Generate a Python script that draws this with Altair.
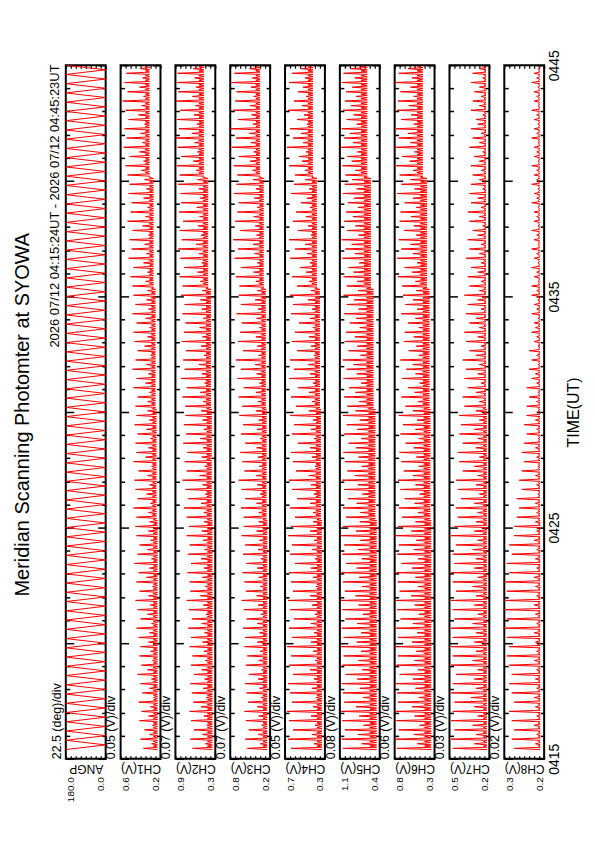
import altair as alt
import pandas as pd

# ---------------- text ----------------
MAIN_TITLE = "Meridian Scanning Photomter at SYOWA"
HEADER = "2026 07/12 04:15:24UT - 2026 07/12 04:45:23UT"
AXIS_NAMES = ["ANGP", "CH1(V)", "CH2(V)", "CH3(V)", "CH4(V)", "CH5(V)", "CH6(V)", "CH7(V)", "CH8(V)"]
DIV_TEXT = ["22.5 (deg)/div", "0.05 (V)/div", "0.07 (V)/div", "0.07 (V)/div", "0.05 (V)/div",
            "0.08 (V)/div", "0.06 (V)/div", "0.03 (V)/div", "0.02 (V)/div"]
LOW = [0.0, 0.20, 0.30, 0.22, 0.30, 0.43, 0.31, 0.22, 0.18]
HIGH = [180.0, 0.60, 0.86, 0.78, 0.70, 1.07, 0.79, 0.46, 0.34]
DIV = [22.5, 0.05, 0.07, 0.07, 0.05, 0.08, 0.06, 0.03, 0.02]

# time in minutes after 04:00 UT
TIME_START = 15.4          # 04:15:24 UT
SCAN_PERIOD = 0.4          # one full scan ~24 s
HALF_SCAN = 0.2
SAMPLE_OFFSETS = [0.0, 0.05, 0.1, 0.15, 0.2, 0.25, 0.3, 0.35]
SEGMENT_START = [0, 12, 25, 37, 50, 62]   # scan index where each 5-min block starts
TIME_TICKS = list(range(15, 46))

# scan angle turning points (deg)
ANGP = [
    180, 0, 180, 0, 180, 0, 180, 0, 180, 0, 180, 0, 180, 0, 180, 0, 180, 0, 180, 0,
    180, 0, 180, 0, 180, 0, 180, 0, 180, 0, 180, 0, 180, 0, 180, 0, 180, 0, 180, 0,
    180, 0, 180, 0, 180, 0, 180, 0, 180, 0, 180, 0, 180, 0, 180, 0, 180, 0, 180, 0,
    180, 0, 180, 0, 180, 0, 180, 0, 180, 0, 180, 0, 180, 0, 180, 0, 180, 0, 180, 0,
    180, 0, 180, 0, 180, 0, 180, 0, 180, 0, 180, 0, 180, 0, 180, 0, 180, 0, 180, 0,
    180, 0, 180, 0, 180, 0, 180, 0, 180, 0, 180, 0, 180, 0, 180, 0, 180, 0, 180, 0,
    180, 0, 180, 0, 180, 0, 180, 0, 180, 0, 180, 0, 180, 0, 180, 0, 180, 0, 180, 0,
    180, 0, 180, 0, 180, 0, 180, 0, 180,
]

# baseline (zenith) level per 5-minute block (V)
BASE_CH1 = [0.23, 0.23, 0.24, 0.25, 0.27, 0.31]
BASE_CH2 = [0.34, 0.34, 0.35, 0.36, 0.40, 0.46]
BASE_CH3 = [0.26, 0.26, 0.27, 0.28, 0.31, 0.36]
BASE_CH4 = [0.33, 0.33, 0.34, 0.35, 0.38, 0.42]
BASE_CH5 = [0.48, 0.48, 0.50, 0.53, 0.57, 0.63]
BASE_CH6 = [0.35, 0.35, 0.36, 0.37, 0.40, 0.45]
BASE_CH7 = [0.235, 0.235, 0.235, 0.24, 0.24, 0.24]
BASE_CH8 = [0.196, 0.196, 0.197, 0.197, 0.198, 0.198]

# in-between ripple level per 5-minute block (V)
MID_CH1 = [0.27, 0.27, 0.28, 0.29, 0.31, 0.35]
MID_CH2 = [0.41, 0.41, 0.42, 0.43, 0.47, 0.53]
MID_CH3 = [0.32, 0.32, 0.33, 0.34, 0.37, 0.42]
MID_CH4 = [0.38, 0.38, 0.39, 0.40, 0.43, 0.47]
MID_CH5 = [0.59, 0.59, 0.61, 0.64, 0.68, 0.73]
MID_CH6 = [0.43, 0.43, 0.44, 0.45, 0.48, 0.52]
MID_CH7 = [0.255, 0.255, 0.255, 0.25, 0.25, 0.25]
MID_CH8 = [0.203, 0.203, 0.203, 0.202, 0.202, 0.202]

# main peak of each scan (V)
PEAK_CH1 = [0.37, 0.40, 0.36, 0.41, 0.39, 0.42, 0.38, 0.40, 0.43, 0.39, 0.41, 0.40,
            0.42, 0.44, 0.40, 0.43, 0.45, 0.41, 0.44, 0.42, 0.46, 0.43, 0.41, 0.44, 0.45,
            0.44, 0.47, 0.43, 0.45, 0.46, 0.42, 0.47, 0.44, 0.45, 0.43, 0.46, 0.44,
            0.45, 0.43, 0.47, 0.44, 0.48, 0.45, 0.43, 0.46, 0.47, 0.44, 0.48, 0.45, 0.47,
            0.48, 0.50, 0.47, 0.52, 0.49, 0.51, 0.48, 0.53, 0.50, 0.49, 0.52, 0.51,
            0.53, 0.55, 0.51, 0.57, 0.54, 0.56, 0.52, 0.55, 0.58, 0.53, 0.56, 0.54]
PEAK_CH2 = [0.62, 0.65, 0.60, 0.64, 0.66, 0.61, 0.63, 0.65, 0.60, 0.64, 0.62, 0.66,
            0.64, 0.68, 0.63, 0.67, 0.70, 0.65, 0.66, 0.69, 0.64, 0.68, 0.66, 0.70, 0.67,
            0.70, 0.74, 0.68, 0.72, 0.76, 0.70, 0.73, 0.69, 0.75, 0.71, 0.74, 0.72,
            0.72, 0.76, 0.70, 0.78, 0.73, 0.75, 0.71, 0.77, 0.74, 0.72, 0.76, 0.73, 0.78,
            0.76, 0.80, 0.74, 0.79, 0.82, 0.77, 0.80, 0.75, 0.81, 0.78, 0.79, 0.82,
            0.80, 0.84, 0.78, 0.83, 0.86, 0.81, 0.84, 0.79, 0.85, 0.82, 0.84, 0.83]
PEAK_CH3 = [0.54, 0.57, 0.52, 0.56, 0.58, 0.53, 0.55, 0.57, 0.52, 0.56, 0.54, 0.58,
            0.57, 0.60, 0.55, 0.59, 0.62, 0.56, 0.58, 0.61, 0.55, 0.60, 0.57, 0.62, 0.59,
            0.59, 0.63, 0.57, 0.62, 0.66, 0.58, 0.61, 0.64, 0.57, 0.63, 0.60, 0.65,
            0.61, 0.66, 0.59, 0.68, 0.63, 0.70, 0.60, 0.67, 0.64, 0.62, 0.69, 0.63, 0.66,
            0.65, 0.70, 0.63, 0.72, 0.67, 0.74, 0.64, 0.71, 0.68, 0.66, 0.73, 0.69,
            0.68, 0.73, 0.66, 0.76, 0.70, 0.78, 0.67, 0.74, 0.71, 0.69, 0.77, 0.72]
PEAK_CH4 = [0.64, 0.67, 0.62, 0.66, 0.68, 0.63, 0.65, 0.67, 0.62, 0.66, 0.64, 0.68,
            0.63, 0.66, 0.61, 0.65, 0.67, 0.62, 0.64, 0.66, 0.60, 0.65, 0.63, 0.67, 0.64,
            0.60, 0.65, 0.58, 0.63, 0.66, 0.59, 0.62, 0.64, 0.57, 0.63, 0.61, 0.65,
            0.59, 0.64, 0.57, 0.66, 0.61, 0.65, 0.58, 0.63, 0.60, 0.56, 0.64, 0.62, 0.65,
            0.58, 0.63, 0.55, 0.65, 0.60, 0.66, 0.57, 0.62, 0.59, 0.54, 0.64, 0.61,
            0.60, 0.66, 0.56, 0.68, 0.62, 0.65, 0.58, 0.67, 0.61, 0.57, 0.66, 0.63]
PEAK_CH5 = [1.02, 1.04, 0.99, 1.03, 1.05, 1.00, 1.02, 1.04, 0.98, 1.03, 1.01, 1.05,
            1.01, 1.04, 0.98, 1.03, 1.05, 0.99, 1.02, 1.04, 0.97, 1.03, 1.00, 1.05, 1.02,
            0.97, 1.02, 0.94, 1.00, 1.03, 0.95, 0.99, 1.01, 0.93, 1.00, 0.96, 1.02,
            0.95, 1.00, 0.92, 1.01, 0.96, 1.02, 0.93, 0.99, 0.97, 0.91, 1.00, 0.96, 1.01,
            0.96, 1.01, 0.93, 1.03, 0.98, 1.04, 0.95, 1.00, 0.97, 0.94, 1.02, 0.99,
            0.98, 1.03, 0.95, 1.05, 1.00, 1.04, 0.96, 1.02, 0.99, 0.97, 1.04, 1.01]
PEAK_CH6 = [0.76, 0.78, 0.74, 0.77, 0.78, 0.75, 0.76, 0.78, 0.73, 0.77, 0.75, 0.78,
            0.75, 0.77, 0.72, 0.76, 0.78, 0.73, 0.75, 0.77, 0.71, 0.76, 0.74, 0.78, 0.75,
            0.70, 0.74, 0.67, 0.72, 0.75, 0.68, 0.71, 0.73, 0.66, 0.72, 0.69, 0.74,
            0.66, 0.71, 0.63, 0.70, 0.65, 0.72, 0.62, 0.68, 0.67, 0.63, 0.71, 0.66, 0.69,
            0.70, 0.75, 0.67, 0.76, 0.71, 0.74, 0.68, 0.73, 0.72, 0.67, 0.76, 0.71,
            0.73, 0.77, 0.70, 0.79, 0.74, 0.78, 0.71, 0.76, 0.75, 0.72, 0.79, 0.74]
PEAK_CH7 = [0.44, 0.45, 0.43, 0.45, 0.44, 0.43, 0.45, 0.44, 0.42, 0.45, 0.44, 0.45,
            0.44, 0.45, 0.43, 0.44, 0.45, 0.42, 0.44, 0.45, 0.43, 0.44, 0.42, 0.45, 0.43,
            0.41, 0.42, 0.39, 0.41, 0.42, 0.38, 0.40, 0.41, 0.38, 0.40, 0.39, 0.40,
            0.37, 0.38, 0.35, 0.37, 0.36, 0.38, 0.34, 0.36, 0.37, 0.34, 0.36, 0.35, 0.37,
            0.34, 0.35, 0.33, 0.36, 0.34, 0.35, 0.32, 0.34, 0.35, 0.33, 0.34, 0.33,
            0.32, 0.33, 0.31, 0.34, 0.32, 0.33, 0.30, 0.33, 0.32, 0.31, 0.33, 0.32]
PEAK_CH8 = [0.30, 0.31, 0.30, 0.31, 0.32, 0.30, 0.31, 0.32, 0.31, 0.32, 0.33, 0.32,
            0.33, 0.34, 0.33, 0.35, 0.34, 0.33, 0.34, 0.32, 0.33, 0.31, 0.32, 0.30, 0.30,
            0.29, 0.28, 0.29, 0.27, 0.28, 0.27, 0.26, 0.27, 0.26, 0.25, 0.26, 0.25,
            0.25, 0.24, 0.25, 0.23, 0.24, 0.23, 0.24, 0.22, 0.23, 0.22, 0.23, 0.22, 0.23,
            0.23, 0.22, 0.23, 0.22, 0.23, 0.22, 0.23, 0.22, 0.22, 0.23, 0.22, 0.23,
            0.22, 0.23, 0.22, 0.22, 0.23, 0.22, 0.22, 0.23, 0.22, 0.22, 0.23, 0.22]

# secondary peak of each scan (V)
SEC_CH1 = [0.29, 0.31, 0.28, 0.32, 0.30, 0.27, 0.31, 0.29, 0.33, 0.28, 0.30, 0.32,
           0.31, 0.29, 0.33, 0.30, 0.32, 0.28, 0.34, 0.31, 0.29, 0.33, 0.30, 0.32, 0.31,
           0.32, 0.30, 0.34, 0.31, 0.33, 0.29, 0.35, 0.32, 0.30, 0.34, 0.31, 0.33,
           0.33, 0.31, 0.35, 0.32, 0.34, 0.30, 0.36, 0.33, 0.31, 0.35, 0.32, 0.34, 0.33,
           0.35, 0.33, 0.37, 0.34, 0.36, 0.32, 0.38, 0.35, 0.33, 0.37, 0.34, 0.36,
           0.39, 0.37, 0.41, 0.38, 0.40, 0.36, 0.42, 0.39, 0.37, 0.41, 0.38, 0.40]
SEC_CH2 = [0.44, 0.48, 0.42, 0.46, 0.50, 0.43, 0.47, 0.45, 0.49, 0.44, 0.46, 0.48,
           0.45, 0.49, 0.43, 0.47, 0.51, 0.44, 0.48, 0.46, 0.50, 0.45, 0.47, 0.49, 0.46,
           0.46, 0.50, 0.44, 0.48, 0.52, 0.45, 0.49, 0.47, 0.51, 0.46, 0.48, 0.50,
           0.47, 0.51, 0.45, 0.49, 0.53, 0.46, 0.50, 0.48, 0.52, 0.47, 0.49, 0.51, 0.48,
           0.51, 0.55, 0.49, 0.53, 0.57, 0.50, 0.54, 0.52, 0.56, 0.51, 0.53, 0.55,
           0.57, 0.61, 0.55, 0.59, 0.63, 0.56, 0.60, 0.58, 0.62, 0.57, 0.59, 0.61]
SEC_CH3 = [0.36, 0.39, 0.34, 0.38, 0.40, 0.35, 0.37, 0.39, 0.34, 0.38, 0.36, 0.40,
           0.37, 0.40, 0.35, 0.39, 0.41, 0.36, 0.38, 0.40, 0.35, 0.39, 0.37, 0.41, 0.38,
           0.38, 0.41, 0.36, 0.40, 0.42, 0.37, 0.39, 0.41, 0.36, 0.40, 0.38, 0.42,
           0.39, 0.42, 0.37, 0.41, 0.43, 0.38, 0.40, 0.42, 0.37, 0.41, 0.39, 0.43, 0.40,
           0.42, 0.45, 0.40, 0.44, 0.46, 0.41, 0.43, 0.45, 0.40, 0.44, 0.42, 0.46,
           0.47, 0.50, 0.45, 0.49, 0.51, 0.46, 0.48, 0.50, 0.45, 0.49, 0.47, 0.51]
SEC_CH4 = [0.41, 0.43, 0.40, 0.44, 0.42, 0.39, 0.43, 0.41, 0.45, 0.40, 0.42, 0.44,
           0.41, 0.44, 0.40, 0.43, 0.45, 0.39, 0.42, 0.44, 0.40, 0.43, 0.41, 0.45, 0.42,
           0.42, 0.45, 0.41, 0.44, 0.46, 0.40, 0.43, 0.45, 0.41, 0.44, 0.42, 0.46,
           0.43, 0.46, 0.42, 0.45, 0.47, 0.41, 0.44, 0.46, 0.42, 0.45, 0.43, 0.47, 0.44,
           0.46, 0.49, 0.45, 0.48, 0.50, 0.44, 0.47, 0.49, 0.45, 0.48, 0.46, 0.50,
           0.50, 0.53, 0.49, 0.52, 0.54, 0.48, 0.51, 0.53, 0.49, 0.52, 0.50, 0.54]
SEC_CH5 = [0.72, 0.78, 0.69, 0.76, 0.81, 0.70, 0.75, 0.79, 0.71, 0.77, 0.73, 0.80,
           0.73, 0.79, 0.70, 0.77, 0.82, 0.71, 0.76, 0.80, 0.72, 0.78, 0.74, 0.81, 0.75,
           0.74, 0.80, 0.71, 0.78, 0.83, 0.72, 0.77, 0.81, 0.73, 0.79, 0.75, 0.82,
           0.76, 0.82, 0.73, 0.80, 0.85, 0.74, 0.79, 0.83, 0.75, 0.81, 0.77, 0.84, 0.78,
           0.79, 0.85, 0.76, 0.83, 0.88, 0.77, 0.82, 0.86, 0.78, 0.84, 0.80, 0.87,
           0.82, 0.88, 0.79, 0.86, 0.91, 0.80, 0.85, 0.89, 0.81, 0.87, 0.83, 0.90]
SEC_CH6 = [0.52, 0.56, 0.49, 0.55, 0.58, 0.50, 0.54, 0.57, 0.51, 0.55, 0.53, 0.58,
           0.52, 0.57, 0.50, 0.55, 0.59, 0.51, 0.54, 0.58, 0.51, 0.56, 0.53, 0.59, 0.54,
           0.51, 0.55, 0.49, 0.54, 0.57, 0.50, 0.53, 0.56, 0.50, 0.54, 0.52, 0.57,
           0.51, 0.55, 0.49, 0.54, 0.57, 0.50, 0.53, 0.56, 0.50, 0.54, 0.52, 0.57, 0.53,
           0.54, 0.58, 0.52, 0.57, 0.60, 0.53, 0.56, 0.59, 0.53, 0.57, 0.55, 0.60,
           0.57, 0.61, 0.55, 0.60, 0.63, 0.56, 0.59, 0.62, 0.56, 0.60, 0.58, 0.63]
SEC_CH7 = [0.31, 0.30, 0.32, 0.29, 0.31, 0.33, 0.30, 0.31, 0.29, 0.32, 0.30, 0.31,
           0.30, 0.32, 0.29, 0.31, 0.30, 0.32, 0.29, 0.31, 0.30, 0.32, 0.29, 0.31, 0.30,
           0.29, 0.31, 0.28, 0.30, 0.29, 0.31, 0.28, 0.30, 0.29, 0.31, 0.28, 0.30,
           0.28, 0.30, 0.27, 0.29, 0.28, 0.30, 0.27, 0.29, 0.28, 0.30, 0.27, 0.29, 0.28,
           0.27, 0.29, 0.27, 0.28, 0.27, 0.29, 0.26, 0.28, 0.27, 0.29, 0.26, 0.28,
           0.27, 0.28, 0.26, 0.28, 0.27, 0.29, 0.26, 0.28, 0.27, 0.28, 0.26, 0.28]
SEC_CH8 = [0.215, 0.21, 0.22, 0.21, 0.215, 0.22, 0.21, 0.215, 0.21, 0.22, 0.21, 0.215,
           0.22, 0.21, 0.215, 0.22, 0.21, 0.215, 0.22, 0.21, 0.215, 0.21, 0.22, 0.21, 0.215,
           0.21, 0.215, 0.205, 0.21, 0.215, 0.205, 0.21, 0.215, 0.205, 0.21, 0.215, 0.205,
           0.21, 0.205, 0.21, 0.215, 0.205, 0.21, 0.205, 0.21, 0.215, 0.205, 0.21, 0.205, 0.21,
           0.205, 0.21, 0.205, 0.21, 0.205, 0.21, 0.205, 0.21, 0.205, 0.21, 0.205, 0.21,
           0.21, 0.205, 0.21, 0.205, 0.21, 0.205, 0.21, 0.205, 0.21, 0.205, 0.21, 0.205]

CHANNELS = [
    (BASE_CH1, MID_CH1, PEAK_CH1, SEC_CH1), (BASE_CH2, MID_CH2, PEAK_CH2, SEC_CH2),
    (BASE_CH3, MID_CH3, PEAK_CH3, SEC_CH3), (BASE_CH4, MID_CH4, PEAK_CH4, SEC_CH4),
    (BASE_CH5, MID_CH5, PEAK_CH5, SEC_CH5), (BASE_CH6, MID_CH6, PEAK_CH6, SEC_CH6),
    (BASE_CH7, MID_CH7, PEAK_CH7, SEC_CH7), (BASE_CH8, MID_CH8, PEAK_CH8, SEC_CH8),
]


def block_of(k):
    b = 0
    for i, s in enumerate(SEGMENT_START):
        if k >= s:
            b = i
    return b


def angp_frame():
    rows = [{"t": round(TIME_START + j * HALF_SCAN, 4), "v": a} for j, a in enumerate(ANGP)]
    return pd.DataFrame(rows)


def channel_frame(base, mid, peak, sec):
    rows = []
    for k in range(min(len(peak), len(sec))):
        b, m = base[block_of(k)], mid[block_of(k)]
        vals = [b, peak[k], b, m, b, sec[k], b, m]
        t0 = TIME_START + k * SCAN_PERIOD
        for off, v in zip(SAMPLE_OFFSETS, vals):
            rows.append({"t": round(t0 + off, 4), "v": v})
    return pd.DataFrame(rows)


frames = [angp_frame()] + [channel_frame(*c) for c in CHANNELS]

FONT = "Liberation Sans"
TICK_LEN = {"condition": {"test": "datum.value % 5 == 0", "value": -8}, "value": -4}


def make_panel(i):
    df = frames[i]
    lo, hi, dv = LOW[i], HIGH[i], DIV[i]
    tick_vals = [round(lo + n * dv, 4) for n in range(9)]
    lo_t, hi_t = tick_vals[0] + 1e-6, tick_vals[-1] - 1e-6
    last = i == len(frames) - 1
    xs = alt.Scale(domain=[lo, hi], reverse=True, nice=False, zero=False)
    ys = alt.Scale(domain=[15, 45], nice=False, zero=False)

    x_bottom = alt.Axis(
        orient="bottom", values=tick_vals, domain=False, grid=False,
        tickSize=alt.ExprRef(expr="-3"), tickWidth=1.2, tickColor="black",
        labelAngle=270, labelFontSize=10, labelPadding=21, labelAlign="right",
        labelFlush=False, labelOverlap=False,
        labelExpr=f"(datum.value <= {lo_t} || datum.value >= {hi_t}) ? format(datum.value, '.1f') : ''",
        labelBaseline={"condition": {"test": f"datum.value <= {lo_t}", "value": "bottom"}, "value": "top"},
        title=AXIS_NAMES[i], titleAngle=180, titleX=20, titleY=3, titleBaseline="bottom",
        titleAlign="center", titleFontSize=12, titleFontWeight="normal",
    )
    x_top = alt.Axis(
        orient="top", values=tick_vals, domain=False, grid=False, labels=False,
        tickSize=alt.ExprRef(expr="-3"), tickWidth=1.2, tickColor="black", title=None,
    )
    y_left = alt.Axis(
        orient="left", values=TIME_TICKS, domain=False, grid=False, labels=False,
        tickSize=TICK_LEN, tickWidth=1.5, tickColor="black",
        title=DIV_TEXT[i], titleAngle=270, titleAnchor="start", titleAlign="left",
        titleBaseline="bottom", titleFontSize=12.5, titleFontWeight="normal", titlePadding=2,
    )
    right_kw = dict(
        orient="right", values=TIME_TICKS, domain=False, grid=False,
        tickSize=TICK_LEN, tickWidth=1.5, tickColor="black",
    )
    if last:
        y_right = alt.Axis(
            labels=True, labelExpr="datum.value % 10 == 5 ? '04' + datum.value : ''",
            labelAngle=270, labelAlign="center", labelBaseline="top", labelFontSize=14,
            labelPadding=11, labelOverlap=False, labelFlush=False,
            title="TIME(UT)", titleAngle=270, titleBaseline="top", titleFontSize=16,
            titleFontWeight="normal", titlePadding=0, **right_kw,
        )
    else:
        y_right = alt.Axis(labels=False, title=None, **right_kw)

    trace = alt.Chart(df).mark_line(color="#ff0000", strokeWidth=1, clip=True).encode(
        x=alt.X("v:Q", scale=xs, axis=x_bottom),
        y=alt.Y("t:Q", scale=ys, axis=y_left),
        order=alt.Order("t:Q"),
    )
    ghost = alt.Chart(df).mark_line(strokeOpacity=0, clip=True).encode(
        x=alt.X("v:Q", scale=xs, axis=x_top),
        y=alt.Y("t:Q", scale=ys, axis=y_right),
        order=alt.Order("t:Q"),
    )
    layer = alt.layer(trace, ghost).properties(width=40, height=696)
    if i == 0:
        layer = layer.properties(title=alt.TitleParams(
            HEADER, orient="left", anchor="end", fontSize=13, fontWeight="normal",
            offset=-12, font=FONT, color="black"))
    return layer


panels = [make_panel(i) for i in range(len(frames))]

chart = alt.hconcat(*panels, spacing=15, bounds="flush").properties(
    title=alt.TitleParams(MAIN_TITLE, orient="left", anchor="middle", fontSize=20,
                          fontWeight="normal", offset=15, dx=11, font=FONT, color="black"),
    padding={"left": 5, "top": 39, "right": 5, "bottom": 5},
).configure(font=FONT).configure_view(stroke="black", strokeWidth=2).configure_axis(
    labelFont=FONT, titleFont=FONT, labelColor="black", titleColor="black"
)

chart.save("out.html", embed_options={"renderer": "svg", "actions": False})
